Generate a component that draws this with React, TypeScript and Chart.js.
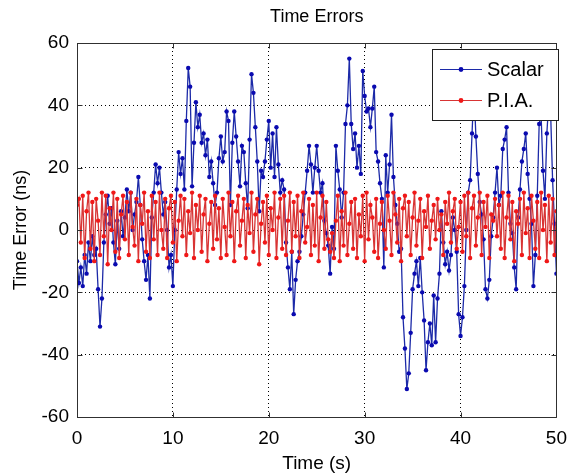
import React, { useEffect, useRef } from 'react';
import { Chart, registerables } from 'chart.js';

Chart.register(...registerables);

const TITLE = 'Time Errors';
const X_LABEL = 'Time (s)';
const Y_LABEL = 'Time Error (ns)';
const SERIES_NAMES = ['Scalar', 'P.I.A.'];
const X_TICKS = [0, 10, 20, 30, 40, 50];
const Y_TICKS = [-60, -40, -20, 0, 20, 40, 60];
const SAMPLE_STEP = 0.2; // seconds between samples

const SCALAR = [
  -10, -17, -12, -18, -8, -14, -4, -10, -2, -8,
  -6, -19, -31, -22, -4, 5, 11, 2, 7, -4,
  -11, 3, -6, 6, -2, 4, 13, 6, 12, 0,
  5, 9, 17, 8, -3, -10, -16, -8, -22, 4,
  12, 21, 15, 20, 12, 5, 9, 0, -12, -8,
  -18, 0, 13, 25, 18, 23, 13, 35, 52, 46,
  14, 28, 41, 33, 37, 28, 31, 24, 29, 17,
  22, 15, 8, 12, 23, 30, 22, 25, 38, 35,
  8, 28, 38, 30, 22, 14, 27, 25, 15, 7,
  29, 50, 44, 33, 22, 6, 19, 17, 22, 29,
  35, 20, 31, 17, 33, 21, 12, 16, 13, -4,
  -12, -19, -7, -27, -16, -10, -7, -2, 5, 12,
  19, 27, 21, 12, 20, 27, 19, 12, 15, 3,
  -1, -5, -14, 1, -6, 27, 19, 13, 4, 12,
  34, 40, 55, 34, 26, 31, 20, 27, 18, 51,
  43, 38, 39, 33, 39, 46, 25, 22, 15, 10,
  -12, 24, 12, 21, 37, 17, 8, 2, -7, -6,
  -28, -38, -51, -46, -33, -19, -14, -10, -18, -9,
  -20, -29, -45, -36, -30, -37, -21, -36, -22, -14,
  6, -4, -11, -7, -13, -8, 4, 0, -7, -27,
  -34, -28, -18, 0, 12, 16, 31, 46, 30, 18,
  9, 5, -3, -19, -22, -16, -2, 4, 12, 20,
  8, 11, 26, 29, 33, 12, 2, -1, -12, -19,
  4, 13, 22, 26, 31, 18, 10, 2, -18, -8,
  11, 34, 37, 19, 10, 31, 41, 37, 16, 2,
  -14,
];

const PIA = [
  8, 10, -4, 11, -9, 6, 12, -6, 9, -10, 10,
  3, -8, 12, -2, 11, -11, 7, 0, 12, -7,
  10, -9, 5, 11, -3, 9, -8, 12, 1, -5,
  10, -10, 8, 2, 12, -7, 6, -9, 11, -3,
  9, -8, 12, 0, -6, 10, -9, 7, 11, -4,
  9, -10, 3, 11, -2, 10, -8, 6, -1, 12,
  -9, 8, 0, 11, -7, 5, 10, -10, 2, 9,
  -6, 11, -3, 7, -9, 10, 1, -8, 12, -2,
  9, -10, 6, 11, -5, 3, 10, -9, 8, -1,
  12, -7, 5, 10, -11, 2, 9, -4, 11, -8,
  7, 0, 12, -9, 4, 10, -6, 11, -8, 3,
  12, -7, 9, -2, 11, -9, 6, 12, -4, 1,
  10, -8, 8, -5, 12, -10, 4, 11, -6, 9,
  -3, -7, -1, -9, 3, 11, -10, 6, -5, 12,
  -8, 2, 9, -6, 10, -9, 5, -2, 11, -10,
  12, -3, 8, 4, -7, 10, -9, 2, 9, 0,
  -6, 11, 3, -8, 12, 5, -4, 10, -10, 7,
  11, -2, 9, -8, 4, 12, -5, 3, 10, -9,
  6, 1, 11, -6, 3, 8, -3, 10, 0, 5,
  -8, 9, 2, 12, -4, 6, 10, -6, 1, 9,
  -7, 11, -2, 12, -9, 7, 11, -5, 4, 12,
  -8, 9, 1, 11, -9, 5, 3, 10, -2, 8,
  -6, 12, -9, 4, 11, -3, 9, -10, 6, 2,
  10, -8, 12, -1, 7, -9, 11, 3, -6, 9,
  -9, 12, 0, 8, -10, 11, -4, 10, -8, 6,
];

const BLUE_LINE = '#1c2aa8';
const BLUE_MARK = '#0a0ab0';
const RED_LINE = '#d83434';
const RED_MARK = '#f01818';
const FONT = '"Liberation Sans", Arial, Helvetica, sans-serif';

const toPoints = (vals: number[]) => vals.map((v, i) => ({ x: i * SAMPLE_STEP, y: v }));

const framePlugin = {
  id: 'matlabFrame',
  beforeDraw(chart: any) {
    const { ctx, width, height } = chart;
    ctx.save();
    ctx.fillStyle = '#ffffff';
    ctx.fillRect(0, 0, width, height);
    ctx.restore();
  },
  afterDraw(chart: any) {
    const { ctx, chartArea: a, scales } = chart;
    const xs = scales.x;
    const ys = scales.y;
    ctx.save();
    ctx.strokeStyle = '#303030';
    ctx.lineWidth = 1;
    const L = Math.round(a.left) + 0.5;
    const R = Math.round(a.right) + 0.5;
    const T = Math.round(a.top) + 0.5;
    const B = Math.round(a.bottom) + 0.5;
    ctx.beginPath();
    ctx.rect(L, T, R - L, B - T);
    ctx.stroke();
    ctx.beginPath();
    X_TICKS.forEach((v) => {
      const px = Math.round(xs.getPixelForValue(v)) + 0.5;
      ctx.moveTo(px, B);
      ctx.lineTo(px, B - 5);
      ctx.moveTo(px, T);
      ctx.lineTo(px, T + 5);
    });
    Y_TICKS.forEach((v) => {
      const py = Math.round(ys.getPixelForValue(v)) + 0.5;
      ctx.moveTo(L, py);
      ctx.lineTo(L + 5, py);
      ctx.moveTo(R, py);
      ctx.lineTo(R - 5, py);
    });
    ctx.stroke();

    ctx.fillStyle = '#000';
    ctx.font = `18px ${FONT}`;
    ctx.textAlign = 'center';
    ctx.textBaseline = 'middle';
    ctx.fillText(TITLE, (a.left + a.right) / 2, 17);

    const lx = 432.5;
    const ly = 49.5;
    const lw = 126;
    const lh = 71;
    ctx.fillStyle = '#ffffff';
    ctx.fillRect(lx, ly, lw, lh);
    ctx.strokeStyle = '#202020';
    ctx.strokeRect(lx, ly, lw, lh);
    const entries = [
      { name: SERIES_NAMES[0], line: BLUE_LINE, mark: BLUE_MARK, y: 69 },
      { name: SERIES_NAMES[1], line: RED_LINE, mark: RED_MARK, y: 100 },
    ];
    entries.forEach((e) => {
      ctx.strokeStyle = e.line;
      ctx.lineWidth = 1.2;
      ctx.beginPath();
      ctx.moveTo(440, e.y + 0.5);
      ctx.lineTo(482, e.y + 0.5);
      ctx.stroke();
      ctx.fillStyle = e.mark;
      ctx.beginPath();
      ctx.arc(461, e.y + 0.5, 2.4, 0, Math.PI * 2);
      ctx.fill();
      ctx.fillStyle = '#000';
      ctx.font = `20px ${FONT}`;
      ctx.textAlign = 'left';
      ctx.textBaseline = 'middle';
      ctx.fillText(e.name, 487, e.y + 1);
    });
    ctx.restore();
  },
};

export default function App() {
  const ref = useRef<HTMLCanvasElement | null>(null);
  useEffect(() => {
    document.body.style.margin = '0';
    const canvas = ref.current;
    if (!canvas) return;
    const chart = new Chart(canvas, {
      type: 'line',
      data: {
        datasets: [
          {
            label: SERIES_NAMES[0],
            data: toPoints(SCALAR),
            borderColor: BLUE_LINE,
            backgroundColor: BLUE_MARK,
            pointBackgroundColor: BLUE_MARK,
            pointBorderColor: BLUE_MARK,
            borderWidth: 1.3,
            pointRadius: 2.2,
            pointBorderWidth: 0,
            tension: 0,
            order: 2,
          },
          {
            label: SERIES_NAMES[1],
            data: toPoints(PIA),
            borderColor: RED_LINE,
            backgroundColor: RED_MARK,
            pointBackgroundColor: RED_MARK,
            pointBorderColor: RED_MARK,
            borderWidth: 1.3,
            pointRadius: 2.2,
            pointBorderWidth: 0,
            tension: 0,
            order: 1,
          },
        ],
      },
      options: {
        responsive: false,
        animation: false,
        events: [],
        layout: { padding: { left: 0, right: 19, top: 43, bottom: 0 } },
        plugins: {
          legend: { display: false },
          title: { display: false },
          tooltip: { enabled: false },
        },
        scales: {
          x: {
            type: 'linear',
            min: 0,
            max: 50,
            afterBuildTicks: (axis: any) => {
              axis.ticks = X_TICKS.map((v) => ({ value: v }));
            },
            afterFit: (axis: any) => {
              axis.height = 56;
            },
            grid: { color: '#000000', lineWidth: 1, drawTicks: false },
            border: { display: false, dash: [1, 3] },
            ticks: {
              color: '#000',
              font: { family: FONT, size: 19 },
              padding: 10,
              maxRotation: 0,
            },
            title: {
              display: true,
              text: X_LABEL,
              color: '#000',
              font: { family: FONT, size: 19, lineHeight: 1 },
              padding: { top: 0, bottom: 0 },
            },
          },
          y: {
            type: 'linear',
            min: -60,
            max: 60,
            afterBuildTicks: (axis: any) => {
              axis.ticks = Y_TICKS.map((v) => ({ value: v }));
            },
            afterFit: (axis: any) => {
              axis.width = 77;
            },
            grid: { color: '#000000', lineWidth: 1, drawTicks: false },
            border: { display: false, dash: [1, 3] },
            ticks: {
              color: '#000',
              font: { family: FONT, size: 19 },
              padding: 8,
            },
            title: {
              display: true,
              text: Y_LABEL,
              color: '#000',
              font: { family: FONT, size: 18, lineHeight: 1 },
              padding: { top: 12, bottom: 0 },
            },
          },
        },
      },
      plugins: [framePlugin],
    } as any);
    return () => chart.destroy();
  }, []);
  return (
    <div style={{ position: 'absolute', left: 0, top: 0, width: 577, height: 473 }}>
      <canvas ref={ref} width={577} height={473} style={{ display: 'block' }} />
    </div>
  );
}
